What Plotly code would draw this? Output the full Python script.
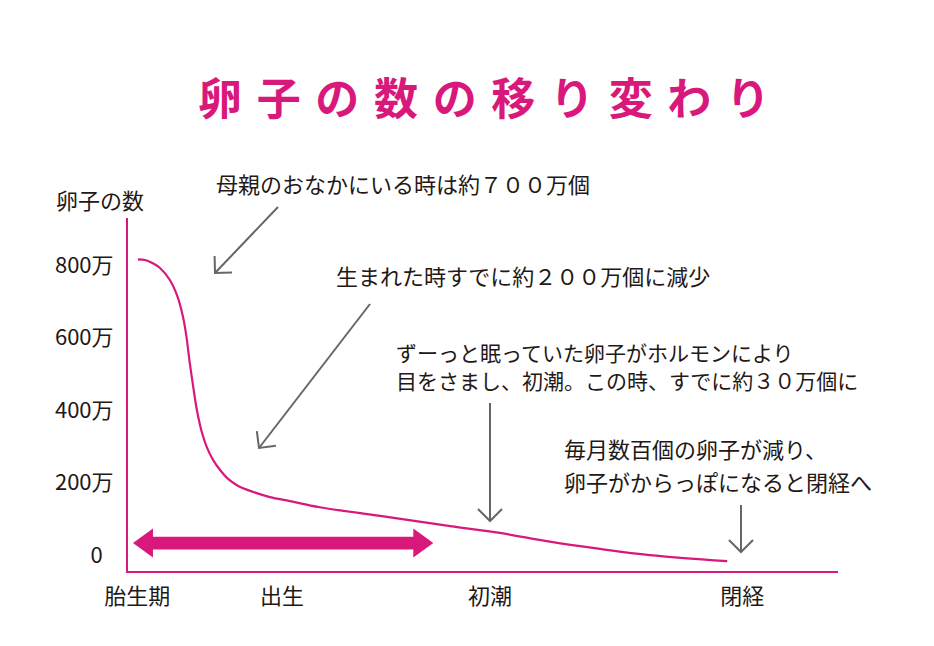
import math
import plotly.graph_objects as go

# ---------------- data ----------------
title_text = "卵子の数の移り変わり"
y_title = "卵子の数"

stage_labels = ["胎生期", "出生", "初潮", "閉経"]
stage_pos = [1.3, 21.7, 51.0, 86.5]

y_ticks = [0, 200, 400, 600, 800]
y_ticklabels = ["0\u2002", "200万", "400万", "600万", "800万"]

# number of eggs (万) over time (arbitrary time units)
curve_x = [1.4, 2.4, 3.5, 4.5, 5.9, 6.9, 7.75, 8.2, 8.7, 9.15, 9.7, 10.4, 11.1, 12.0,
           13.0, 14.1, 15.4, 17.2, 20.0, 22.8, 27.0, 35.5, 45.4, 52.4, 59.4, 66.5, 73.5, 84.4]
curve_y = [816, 814, 805, 792, 759, 717, 657, 607, 530, 469, 400, 339, 298, 262,
           234, 210, 192, 177, 160, 149, 132, 108, 80, 61, 37, 17, 0, -17]

# text notes (left x in pixels, centre y in pixels, font size)
note_texts = [
    "母親のおなかにいる時は約７００万個",
    "生まれた時すでに約２００万個に減少",
    "ずーっと眠っていた卵子がホルモンにより",
    "目をさまし、初潮。この時、すでに約３０万個に",
    "毎月数百個の卵子が減り、",
    "卵子がからっぽになると閉経へ",
]
note_px = [(214, 183), (334, 275), (394, 352), (394, 380), (562, 448), (562, 481)]
note_size = [22, 22, 21, 21, 22, 22]

# gray pointer arrows: (tail px, tip px)
arrows_px = [((278, 207), (215, 273)),
             ((370, 304), (259, 448)),
             ((490, 403), (490, 521)),
             ((741, 505), (741, 552))]

# fetal period span (x units) at level (万)
span_x = [0.7, 43.0]
span_level = 33

# ---------------- layout constants ----------------
W, H = 934, 646
L, R, T, B = 128, 838, 218, 571
X0, X1 = 0, 100
Y0, Y1 = -44, 930
PINK = "#D9187C"
GRAY = "#666666"
TXT = "#231815"
FONT = "Noto Sans CJK JP"


def xpx(x):
    return L + (x - X0) / (X1 - X0) * (R - L)


def ypx(v):
    return B - (v - Y0) / (Y1 - Y0) * (B - T)


def pxx(px):
    return (px - L) / (R - L)


def pyy(py):
    return (B - py) / (B - T)


fig = go.Figure()
fig.add_trace(go.Scatter(
    x=curve_x, y=curve_y, mode="lines",
    line=dict(color=PINK, width=2.2, shape="spline", smoothing=1.0),
    hoverinfo="skip", showlegend=False,
))

shapes = []
# gray arrows with open chevrons
for (tail, tip) in arrows_px:
    shapes.append(dict(type="line", xref="paper", yref="paper",
                       x0=pxx(tail[0]), y0=pyy(tail[1]), x1=pxx(tip[0]), y1=pyy(tip[1]),
                       line=dict(color=GRAY, width=2)))
    dx, dy = tail[0] - tip[0], tail[1] - tip[1]
    n = math.hypot(dx, dy)
    ux, uy = dx / n, dy / n
    arm = 17
    pts = []
    for ang in (math.pi / 4, -math.pi / 4):
        rx = ux * math.cos(ang) - uy * math.sin(ang)
        ry = ux * math.sin(ang) + uy * math.cos(ang)
        pts.append((tip[0] + arm * rx, tip[1] + arm * ry))
    path = "M {},{} L {},{} L {},{}".format(
        pxx(pts[0][0]), pyy(pts[0][1]), pxx(tip[0]), pyy(tip[1]), pxx(pts[1][0]), pyy(pts[1][1]))
    shapes.append(dict(type="path", xref="paper", yref="paper", path=path,
                       line=dict(color=GRAY, width=2)))

# pink double-headed arrow
xl, xr = xpx(span_x[0]), xpx(span_x[1])
yc = ypx(span_level)
hl, hw, sw = 20, 14.5, 6.4
poly = [(xl, yc), (xl + hl, yc - hw), (xl + hl, yc - sw), (xr - hl, yc - sw), (xr - hl, yc - hw),
        (xr, yc), (xr - hl, yc + hw), (xr - hl, yc + sw), (xl + hl, yc + sw), (xl + hl, yc + hw)]
path = "M " + " L ".join("{},{}".format(pxx(a), pyy(b)) for a, b in poly) + " Z"
shapes.append(dict(type="path", xref="paper", yref="paper", path=path,
                   fillcolor=PINK, line=dict(color=PINK, width=0)))

annotations = []
annotations.append(dict(
    text="\u2004".join(title_text), xref="paper", yref="paper",
    x=pxx(484), y=pyy(96), xanchor="center", yanchor="middle", showarrow=False,
    font=dict(family=FONT, size=44, color=PINK, weight="bold")))
annotations.append(dict(
    text=y_title, xref="paper", yref="paper", x=pxx(100), y=pyy(199),
    xanchor="center", yanchor="middle", showarrow=False,
    font=dict(family=FONT, size=22, color=TXT)))
for t, (px, py), fs in zip(note_texts, note_px, note_size):
    annotations.append(dict(
        text=t, xref="paper", yref="paper", x=pxx(px), y=pyy(py),
        xanchor="left", yanchor="middle", showarrow=False,
        font=dict(family=FONT, size=fs, color=TXT)))

fig.update_layout(
    width=W, height=H,
    margin=dict(l=L, r=W - R, t=T, b=H - B, pad=0),
    paper_bgcolor="white", plot_bgcolor="white",
    shapes=shapes, annotations=annotations, showlegend=False,
    xaxis=dict(range=[X0, X1], showgrid=False, zeroline=False, showline=True,
               linecolor=PINK, linewidth=2, ticks="", tickvals=stage_pos, ticktext=stage_labels,
               tickfont=dict(family=FONT, size=22, color=TXT), ticklabelstandoff=5, fixedrange=True),
    yaxis=dict(range=[Y0, Y1], showgrid=False, zeroline=False, showline=True,
               linecolor=PINK, linewidth=2, ticks="", tickvals=y_ticks, ticktext=y_ticklabels,
               tickfont=dict(family=FONT, size=22, color=TXT), ticklabelstandoff=8, fixedrange=True),
)

fig.write_html("out.html")
